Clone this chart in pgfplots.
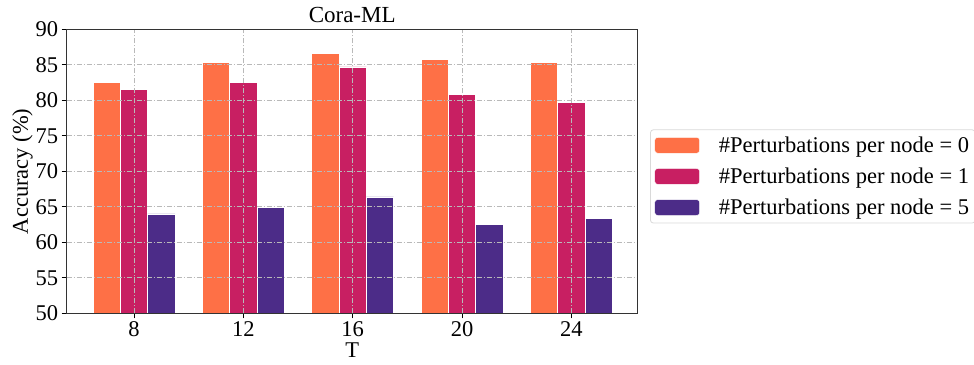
\documentclass[border=0pt]{standalone}
\usepackage{fontspec}
\setmainfont{Liberation Serif}
\usepackage{pgfplots}
\pgfplotsset{compat=1.18}
\definecolor{cO}{HTML}{FE7046}
\definecolor{cM}{HTML}{C81F62}
\definecolor{cP}{HTML}{4C2C88}
\begin{document}
\begin{tikzpicture}
\begin{axis}[
  scale only axis,
  width=571pt, height=284pt,
  at={(0pt,0pt)}, anchor=south west,
  xmin=-0.616, xmax=4.607,
  ymin=50, ymax=90,
  xtick={0,1,2,3,4},
  xticklabels={8,12,16,20,24},
  ytick={50,55,...,90},
  /pgf/number format/assume math mode=true,
  ticklabel style={font=\fontsize{22.5}{27}\selectfont},
  label style={font=\fontsize{22.5}{27}\selectfont},
  title style={font=\fontsize{23}{27}\selectfont, yshift=-3pt},
  title={Cora-ML},
  xlabel={T},
  ylabel={Accuracy (\%)},
  xlabel style={yshift=1pt},
  ylabel style={yshift=-4pt},
  tick align=outside,
  tick pos=left,
  major tick length=5pt,
  tick style={black, line width=0.8pt},
  axis line style={black!80, line width=1pt},
  grid=major,
  major grid style={gray!55, line width=0.8pt, dash pattern=on 5pt off 2pt on 1pt off 2pt},
  axis on top,
  ybar,
  bar width=0.25,
  legend style={at={(1.0216,0.482)}, anchor=west,
    font=\fontsize{22.5}{27}\selectfont,
    draw=black!15, rounded corners=3pt, line width=0.8pt,
    inner xsep=4pt, inner ysep=5pt,
    row sep=10pt,
    /tikz/every odd column/.append style={column sep=17pt},
    cells={anchor=west}},
  legend cell align=left,
  legend image code/.code={\fill[#1] (0pt,-8pt) rectangle (45pt,8pt);},
]
\addplot[fill=cO, draw=white, line width=0.5pt, bar shift=-0.25] coordinates {(0,82.5) (1,85.3) (2,86.6) (3,85.8) (4,85.3)};
\addplot[fill=cM, draw=white, line width=0.5pt, bar shift=0] coordinates {(0,81.5) (1,82.5) (2,84.7) (3,80.8) (4,79.7)};
\addplot[fill=cP, draw=white, line width=0.5pt, bar shift=0.25] coordinates {(0,64.0) (1,64.9) (2,66.4) (3,62.5) (4,63.4)};
\legend{\#Perturbations per node = 0, \#Perturbations per node = 1, \#Perturbations per node = 5}
\end{axis}
\pgfresetboundingbox
\path[use as bounding box] (-66.7pt,-50.7pt) rectangle (907.3pt,313.3pt);
\end{tikzpicture}
\end{document}
